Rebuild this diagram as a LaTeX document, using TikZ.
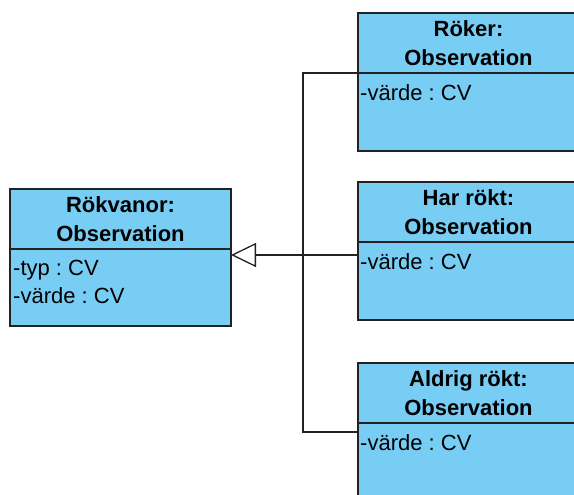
\documentclass[tikz,border=0pt]{standalone}
\usepackage{fontspec}
\setmainfont{Liberation Sans}
\usetikzlibrary{positioning,arrows.meta}
\frenchspacing
\definecolor{classblue}{RGB}{120,205,244}
\definecolor{edge}{RGB}{34,34,34}
\tikzset{
  classhead/.style={draw=edge, fill=classblue, line width=1.3pt, minimum width=221pt, minimum height=60pt, inner sep=0pt, outer sep=0pt, anchor=north west, align=center, font=\fontsize{22}{29.5}\selectfont\bfseries},
  classbody/.style={draw=edge, fill=classblue, line width=1.3pt, minimum width=221pt, minimum height=78pt, inner sep=0pt, outer sep=0pt},
  attrs/.style={anchor=north west, inner sep=0pt, align=left, font=\fontsize{22}{28}\selectfont},
  link/.style={draw=edge, line width=1.3pt},
  inherit/.style={link, -{Triangle[open, length=25pt, width=24pt]}}
}
\begin{document}
\begin{tikzpicture}[x=1pt, y=1pt]
\useasboundingbox (0,0) rectangle (574,-495);
\clip (0,0) rectangle (574,-495);
\node[classhead] (rokhead) at (10,-189) {Rökvanor:\\Observation};
\node[classbody, below=0pt of rokhead, minimum height=77pt] (rokbody) {};
\node[attrs] (rokattr) at ([xshift=3pt, yshift=-11pt]rokbody.north west) {-typ : CV\\-värde : CV};
\node[classhead] (rokerhead) at (358,-13) {Röker:\\Observation};
\node[classbody, below=0pt of rokerhead] (rokerbody) {};
\node[attrs] (rokerattr) at ([xshift=2pt, yshift=-11pt]rokerbody.north west) {-värde : CV};
\node[classhead] (harhead) at (358,-182) {Har rökt:\\Observation};
\node[classbody, below=0pt of harhead] (harbody) {};
\node[attrs] (harattr) at ([xshift=2pt, yshift=-11pt]harbody.north west) {-värde : CV};
\node[classhead] (aldrighead) at (358,-363) {Aldrig rökt:\\Observation};
\node[classbody, below=0pt of aldrighead] (aldrigbody) {};
\node[attrs] (aldrigattr) at ([xshift=2pt, yshift=-11pt]aldrigbody.north west) {-värde : CV};
\coordinate (fork) at (303,-255);
\draw[link] (rokerhead.south west) -| (fork) |- ([yshift=-9pt]aldrigbody.north west);
\draw[link] (harbody.west |- fork) -- (fork);
\draw[inherit] (fork) -- (rokhead.east |- fork);
\end{tikzpicture}
\end{document}
